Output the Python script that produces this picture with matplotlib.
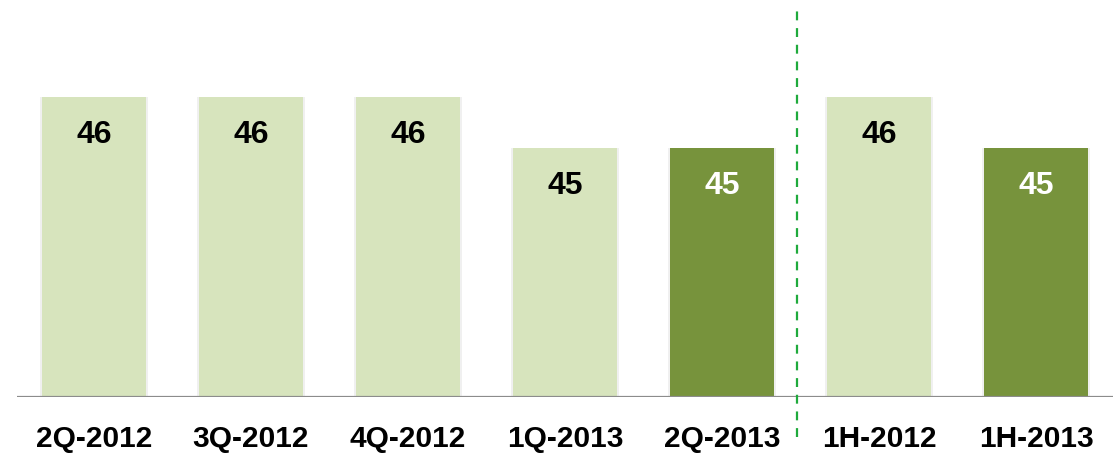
import matplotlib.pyplot as plt

plt.rcParams['font.family'] = ['Liberation Sans', 'DejaVu Sans']

periodos = ['2Q-2012', '3Q-2012', '4Q-2012', '1Q-2013', '2Q-2013', '1H-2012', '1H-2013']
valores = [46, 46, 46, 45, 45, 46, 45]
destaque = [False, False, False, False, True, False, True]

cor_clara = '#D7E4BD'
cor_escura = '#77933C'

fig = plt.figure(figsize=(11.13, 4.55), dpi=100)
ax = fig.add_axes([17 / 1113, 58 / 455, 1 - 17 / 1113, 397 / 455])

x = list(range(len(periodos)))
largura = 0.663

# sombra leve atras das barras
ax.bar(x, valores, width=largura + 0.03, color='#f0f0f0', zorder=1)
cores = [cor_escura if d else cor_clara for d in destaque]
ax.bar(x, valores, width=largura, color=cores, zorder=2)

for i, v in enumerate(valores):
    cor_txt = 'white' if destaque[i] else 'black'
    ax.text(i, v - 0.74, str(v), ha='center', va='center', fontsize=23,
            fontweight='bold', color=cor_txt, zorder=3)

ax.set_xlim(-0.49, 6.49)
ax.set_ylim(40.12, 47.9)

ax.axhline(40.12, color='#8c8c8c', linewidth=1.6, zorder=4)

# linha tracejada separando trimestres e semestres
ax.plot([4.48, 4.48], [-0.10, 0.98], color='#1faa3c', linestyle=(0, (4, 3.5)),
        linewidth=1.6, transform=ax.get_xaxis_transform(), clip_on=False, zorder=5)

ax.set_xticks(x)
ax.set_xticklabels(periodos, fontsize=21.5, fontweight='bold')
ax.tick_params(axis='x', length=0, pad=20)
ax.set_yticks([])
for s in ax.spines.values():
    s.set_visible(False)

fig.savefig('out.png', dpi=100)
